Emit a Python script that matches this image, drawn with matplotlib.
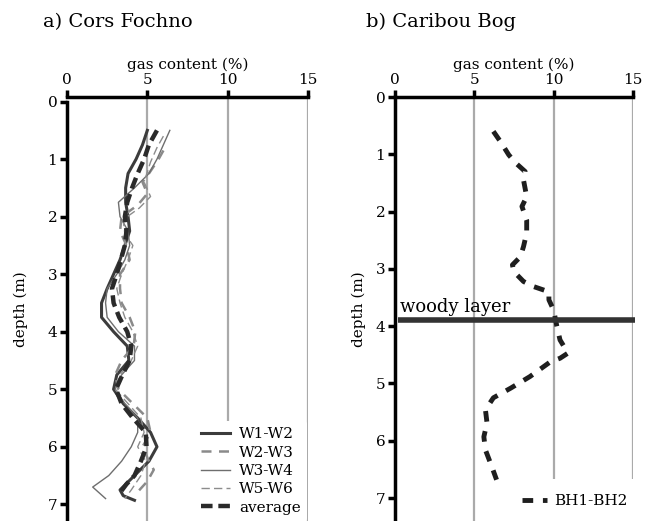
import matplotlib
matplotlib.use("Agg")
import matplotlib.pyplot as plt

plt.rcParams["font.family"] = "DejaVu Serif"

# a) Cors Fochno: gas content (%) against depth (m)
w12_depth = [0.5, 0.75, 1.0, 1.25, 1.5, 1.75, 2.0, 2.25, 2.5, 2.75, 3.0, 3.25, 3.5, 3.75,
             4.0, 4.25, 4.5, 4.75, 5.0, 5.25, 5.5, 5.75, 6.0, 6.25, 6.5, 6.75, 6.85, 6.93]
w12_gas = [5.0, 4.7, 4.3, 3.8, 3.65, 3.65, 3.8, 3.9, 3.6, 3.3, 2.9, 2.5, 2.15, 2.15,
           2.9, 3.75, 3.85, 3.1, 2.9, 3.5, 4.4, 5.2, 5.6, 5.1, 4.2, 3.3, 3.5, 4.2]

w23_depth = [0.85, 1.0, 1.25, 1.4, 1.6, 1.8, 2.0, 2.25, 2.5, 2.75, 3.0, 3.25, 3.5, 3.75,
             4.0, 4.25, 4.5, 4.75, 5.0, 5.25, 5.5, 5.75, 6.0, 6.25, 6.4, 6.6, 6.8]
w23_gas = [6.0, 5.7, 5.1, 4.7, 5.0, 4.4, 3.4, 3.3, 3.7, 3.9, 3.3, 3.3, 3.4, 3.9,
           4.25, 4.15, 3.4, 3.0, 3.2, 4.1, 5.0, 5.2, 4.7, 5.1, 5.4, 5.0, 4.35]

w34_depth = [0.5, 0.75, 1.0, 1.25, 1.5, 1.75, 2.0, 2.25, 2.5, 2.75, 3.0, 3.25, 3.5, 3.75,
             4.0, 4.25, 4.5, 4.75, 5.0, 5.25, 5.5, 5.75, 6.0, 6.25, 6.5, 6.7, 6.9]
w34_gas = [6.4, 6.0, 5.6, 5.1, 4.2, 3.2, 3.3, 3.8, 3.9, 3.6, 3.1, 2.5, 2.4, 2.5,
           3.2, 4.2, 4.2, 3.4, 3.0, 3.6, 4.4, 4.4, 4.0, 3.4, 2.6, 1.6, 2.4]

w56_depth = [0.6, 0.8, 1.05, 1.4, 1.65, 1.85, 2.05, 2.3, 2.5, 2.75, 3.0, 3.25, 3.5, 3.75,
             4.0, 4.25, 4.5, 4.75, 5.0, 5.25, 5.5, 5.75, 6.0, 6.25, 6.5, 6.75, 6.9]
w56_gas = [6.0, 5.6, 5.2, 4.8, 5.2, 4.5, 3.5, 3.6, 4.1, 3.8, 3.4, 3.1, 3.3, 3.6,
           4.1, 4.4, 4.0, 3.3, 3.0, 3.8, 4.6, 4.8, 4.4, 4.9, 4.6, 4.0, 3.6]

avg_depth = [0.5, 0.75, 1.0, 1.25, 1.5, 1.75, 2.0, 2.25, 2.5, 2.75, 3.0, 3.25, 3.5, 3.75,
             4.0, 4.25, 4.5, 4.75, 5.0, 5.25, 5.5, 5.75, 6.0, 6.25, 6.5, 6.65, 6.8]
avg_gas = [5.6, 5.1, 4.8, 4.4, 4.05, 3.75, 3.6, 3.7, 3.6, 3.35, 3.1, 2.8, 2.9, 3.25,
           3.75, 4.0, 3.9, 3.45, 3.05, 3.4, 4.1, 4.9, 4.95, 4.6, 4.2, 3.7, 3.3]

# b) Caribou Bog
bh_depth = [0.6, 0.78, 1.01, 1.15, 1.3, 1.45, 1.74, 1.91, 2.15, 2.37, 2.61, 2.79, 2.93, 3.05,
            3.22, 3.31, 3.4, 3.54, 3.72, 4.0, 4.24, 4.47, 4.56, 4.62, 4.88, 5.08, 5.25,
            5.46, 5.69, 5.93, 6.16, 6.45, 6.68]
bh_gas = [6.2, 6.65, 7.17, 7.6, 8.2, 8.1, 8.3, 8.0, 8.3, 8.3, 8.1, 7.9, 7.4, 7.5,
          8.1, 8.75, 9.7, 9.7, 10.0, 10.2, 10.4, 10.9, 10.4, 9.8, 8.5, 7.3, 6.2,
          5.7, 5.8, 5.6, 5.7, 6.1, 6.4]

woody_depth = 3.9
xticks = [0, 5, 10, 15]
yticks = [0, 1, 2, 3, 4, 5, 6, 7]

fig = plt.figure(figsize=(6.55, 5.21), dpi=100)
ax1 = fig.add_axes([67 / 655, 0.0, 241 / 655, 424 / 521])
ax2 = fig.add_axes([395 / 655, 0.0, 238 / 655, 424 / 521])


def style(ax, ylim, ybounds, ypad):
    ax.set_xlim(0, 15)
    ax.set_ylim(*ylim)
    ax.xaxis.tick_top()
    ax.xaxis.set_label_position("top")
    ax.set_xticks(xticks)
    ax.set_yticks(yticks)
    for x in xticks[1:]:
        ax.axvline(x, color="#aaaaaa", lw=1.6, zorder=0)
    ax.spines["right"].set_visible(False)
    ax.spines["bottom"].set_visible(False)
    ax.spines["top"].set_linewidth(2.5)
    ax.spines["left"].set_linewidth(2.5)
    ax.spines["left"].set_bounds(*ybounds)
    ax.tick_params(axis="both", width=2.5, length=5, labelsize=11, pad=2)
    ax.set_xlabel("gas content (%)", fontsize=11, labelpad=3)
    ax.set_ylabel("depth (m)", fontsize=11, labelpad=ypad)


style(ax1, (7.29, -0.08), (0, 7.29), 14)
style(ax2, (7.4, 0), (0, 7.4), 7)
fig.text(43 / 655, 1 - 22 / 521, "a) Cors Fochno", fontsize=14, va="center", ha="left")
fig.text(366 / 655, 1 - 22 / 521, "b) Caribou Bog", fontsize=14, va="center", ha="left")

ax1.plot(w12_gas, w12_depth, color="#3c3c3c", lw=2.2, label="W1-W2")
ax1.plot(w23_gas, w23_depth, color="#8a8a8a", lw=1.8, ls=(0, (4, 3)), label="W2-W3")
ax1.plot(w34_gas, w34_depth, color="#6e6e6e", lw=1.0, label="W3-W4")
ax1.plot(w56_gas, w56_depth, color="#8c8c8c", lw=1.0, ls=(0, (6, 3)), label="W5-W6")
ax1.plot(avg_gas, avg_depth, color="#2a2a2a", lw=3.2, ls=(0, (2.6, 1.3)), label="average")
leg1 = ax1.legend(loc="upper left", bbox_to_anchor=(0.53, 0.235), frameon=True, fontsize=11,
                  handlelength=1.9, labelspacing=0.28, borderpad=0.4, handletextpad=0.6,
                  borderaxespad=0)
leg1.get_frame().set_edgecolor("none")
leg1.get_frame().set_alpha(1)

ax2.plot(bh_gas, bh_depth, color="#1e1e1e", lw=3.5, ls=(0, (2.2, 2)), label="BH1-BH2")
ax2.plot([0.2, 15.1], [woody_depth, woody_depth], color="#333333", lw=4, solid_capstyle="butt",
         clip_on=False)
ax2.text(0.3, woody_depth - 0.08, "woody layer", fontsize=13, va="bottom", ha="left")
leg2 = ax2.legend(loc="upper left", bbox_to_anchor=(0.47, 0.10), frameon=True, fontsize=11,
                  handlelength=1.6, borderpad=1.0, handletextpad=0.5, borderaxespad=0)
leg2.get_frame().set_edgecolor("none")
leg2.get_frame().set_alpha(1)

plt.savefig("out.png", dpi=100)
